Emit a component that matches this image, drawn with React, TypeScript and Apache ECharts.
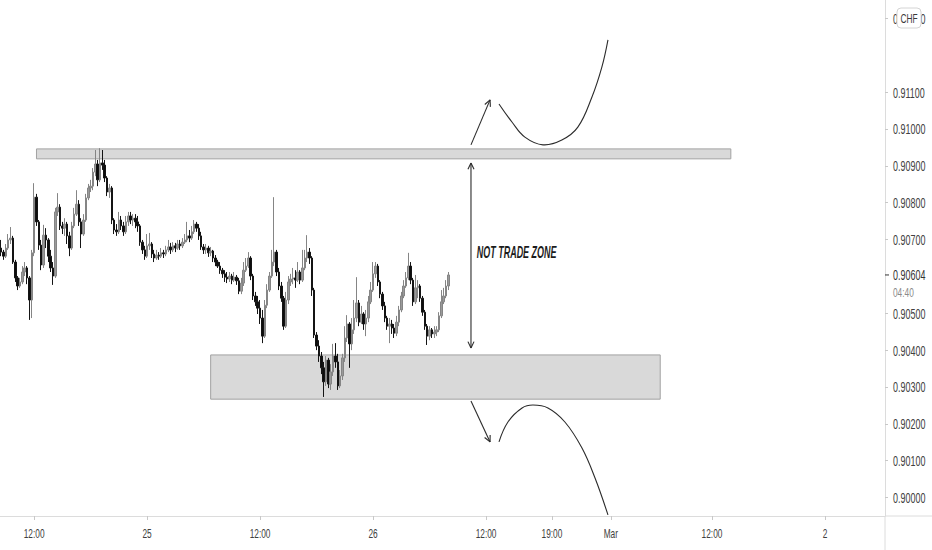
import React, { useEffect, useRef } from "react";
import * as echarts from "echarts";

// 15-minute trading sessions shown on the time scale (weekend gap removed)
const sessions: [string, string][] = [
  ["2021-02-24 08:30", "2021-02-26 21:45"],
  ["2021-02-28 22:00", "2021-03-02 06:15"],
];

const xTickTimes = [
  "2021-02-24 12:00",
  "2021-02-25 00:00",
  "2021-02-25 12:00",
  "2021-02-26 00:00",
  "2021-02-26 12:00",
  "2021-02-26 19:00",
  "2021-03-01 01:15",
  "2021-03-01 12:00",
  "2021-03-02 00:00",
];
const xTickLabels = ["12:00", "25", "12:00", "26", "12:00", "19:00", "Mar", "12:00", "2"];

const yTicks = [0.9, 0.901, 0.902, 0.903, 0.904, 0.905, 0.907, 0.908, 0.909, 0.91, 0.911, 0.913];

// USD/CHF 15m candles: [open, close, low, high]
const ohlc: number[][] = [
  [0.90677, 0.90666, 0.90655, 0.90699],
  [0.90666, 0.90655, 0.90645, 0.90672],
  [0.90655, 0.90677, 0.9065, 0.90688],
  [0.90677, 0.90699, 0.90672, 0.90715],
  [0.90699, 0.90704, 0.90688, 0.90734],
  [0.90704, 0.90639, 0.90634, 0.9071],
  [0.90639, 0.90596, 0.90585, 0.90645],
  [0.90596, 0.90574, 0.90563, 0.90601],
  [0.90574, 0.90585, 0.90569, 0.90596],
  [0.90585, 0.90612, 0.90579, 0.90628],
  [0.90612, 0.90623, 0.90601, 0.90639],
  [0.90623, 0.90596, 0.90579, 0.90628],
  [0.90596, 0.90536, 0.90482, 0.90601],
  [0.90536, 0.90664, 0.90487, 0.90672],
  [0.90664, 0.90815, 0.90655, 0.90853],
  [0.90815, 0.90748, 0.90737, 0.90824],
  [0.90748, 0.90685, 0.90672, 0.90753],
  [0.90685, 0.90631, 0.90617, 0.90699],
  [0.90631, 0.90712, 0.90623, 0.9074],
  [0.90712, 0.90699, 0.90677, 0.90731],
  [0.90699, 0.90655, 0.90639, 0.90704],
  [0.90655, 0.90623, 0.90612, 0.90672],
  [0.90623, 0.90601, 0.90577, 0.90639],
  [0.90601, 0.90775, 0.90596, 0.90786],
  [0.90775, 0.90788, 0.90764, 0.90826],
  [0.90788, 0.90737, 0.90726, 0.90796],
  [0.90737, 0.90731, 0.90715, 0.90748],
  [0.90731, 0.90742, 0.9071, 0.90758],
  [0.90742, 0.9071, 0.90688, 0.90748],
  [0.9071, 0.90677, 0.90655, 0.90721],
  [0.90677, 0.90737, 0.90672, 0.90748],
  [0.90737, 0.90769, 0.90731, 0.90786],
  [0.90769, 0.90796, 0.90764, 0.90834],
  [0.90796, 0.90748, 0.90737, 0.90807],
  [0.90748, 0.90715, 0.90677, 0.90758],
  [0.90715, 0.90753, 0.9071, 0.90769],
  [0.90753, 0.90813, 0.90748, 0.90824],
  [0.90813, 0.9084, 0.90807, 0.90851],
  [0.9084, 0.90845, 0.90829, 0.90862],
  [0.90845, 0.90883, 0.90834, 0.90894],
  [0.90883, 0.90905, 0.90872, 0.90943],
  [0.90905, 0.90862, 0.90845, 0.90916],
  [0.90862, 0.90908, 0.90856, 0.90948],
  [0.90908, 0.90902, 0.90889, 0.90943],
  [0.90902, 0.90867, 0.90856, 0.90916],
  [0.90867, 0.90829, 0.90818, 0.90872],
  [0.90829, 0.9084, 0.90813, 0.90851],
  [0.9084, 0.90753, 0.90742, 0.90845],
  [0.90753, 0.90726, 0.90715, 0.90758],
  [0.90726, 0.90721, 0.9071, 0.90742],
  [0.90721, 0.90753, 0.90715, 0.90775],
  [0.90753, 0.90737, 0.90726, 0.90764],
  [0.90737, 0.90721, 0.9071, 0.90748],
  [0.90721, 0.90748, 0.90715, 0.90764],
  [0.90748, 0.90764, 0.90737, 0.90775],
  [0.90764, 0.90753, 0.90742, 0.90775],
  [0.90753, 0.90758, 0.90737, 0.90769],
  [0.90758, 0.90748, 0.90731, 0.90769],
  [0.90748, 0.90737, 0.90721, 0.90764],
  [0.90737, 0.90693, 0.90683, 0.90742],
  [0.90693, 0.90672, 0.90661, 0.90699],
  [0.90672, 0.90655, 0.90645, 0.90683],
  [0.90655, 0.90683, 0.9065, 0.90715],
  [0.90683, 0.90688, 0.90672, 0.90718],
  [0.90688, 0.90661, 0.9065, 0.90693],
  [0.90661, 0.9065, 0.90639, 0.90672],
  [0.9065, 0.90658, 0.90645, 0.90672],
  [0.90658, 0.90655, 0.90645, 0.90666],
  [0.90655, 0.90664, 0.9065, 0.90677],
  [0.90664, 0.90661, 0.9065, 0.90672],
  [0.90661, 0.90672, 0.90655, 0.90683],
  [0.90672, 0.9068, 0.90666, 0.90699],
  [0.9068, 0.90672, 0.90661, 0.90691],
  [0.90672, 0.90683, 0.90666, 0.90693],
  [0.90683, 0.90677, 0.90666, 0.90691],
  [0.90677, 0.90688, 0.90672, 0.90699],
  [0.90688, 0.90683, 0.90672, 0.90699],
  [0.90683, 0.90693, 0.90677, 0.90704],
  [0.90693, 0.90699, 0.90688, 0.90715],
  [0.90699, 0.9071, 0.90693, 0.90748],
  [0.9071, 0.90704, 0.90693, 0.90726],
  [0.90704, 0.90721, 0.90699, 0.90737],
  [0.90721, 0.90742, 0.90715, 0.90753],
  [0.90742, 0.90731, 0.90721, 0.90748],
  [0.90731, 0.9071, 0.90699, 0.90742],
  [0.9071, 0.9068, 0.90672, 0.90721],
  [0.9068, 0.90672, 0.90661, 0.90688],
  [0.90672, 0.90677, 0.90661, 0.90688],
  [0.90677, 0.90664, 0.90653, 0.90683],
  [0.90664, 0.90669, 0.90655, 0.9068],
  [0.90669, 0.9065, 0.90639, 0.90672],
  [0.9065, 0.90639, 0.90628, 0.90658],
  [0.90639, 0.90628, 0.90623, 0.90645],
  [0.90628, 0.90617, 0.90607, 0.90639],
  [0.90617, 0.90607, 0.90596, 0.90623],
  [0.90607, 0.90598, 0.90585, 0.90617],
  [0.90598, 0.90593, 0.90582, 0.90612],
  [0.90593, 0.90601, 0.90585, 0.90612],
  [0.90601, 0.9059, 0.90579, 0.90607],
  [0.9059, 0.90598, 0.90585, 0.90612],
  [0.90598, 0.90588, 0.90577, 0.90604],
  [0.90588, 0.9056, 0.90552, 0.90596],
  [0.9056, 0.90582, 0.90552, 0.90596],
  [0.90582, 0.90617, 0.90574, 0.90639],
  [0.90617, 0.90628, 0.90612, 0.9065],
  [0.90628, 0.9065, 0.90623, 0.90666],
  [0.9065, 0.90601, 0.9059, 0.90655],
  [0.90601, 0.90547, 0.90536, 0.90607],
  [0.90547, 0.90531, 0.9052, 0.90558],
  [0.90531, 0.90514, 0.90498, 0.90547],
  [0.90514, 0.90487, 0.90471, 0.90536],
  [0.90487, 0.90438, 0.90419, 0.90509],
  [0.90438, 0.90522, 0.90433, 0.90536],
  [0.90522, 0.90563, 0.90514, 0.90579],
  [0.90563, 0.90601, 0.90558, 0.90612],
  [0.90601, 0.90639, 0.90596, 0.90672],
  [0.90639, 0.90666, 0.90628, 0.90815],
  [0.90666, 0.90612, 0.90601, 0.90672],
  [0.90612, 0.90574, 0.90563, 0.90623],
  [0.90574, 0.90541, 0.90531, 0.90585],
  [0.90541, 0.90465, 0.90455, 0.90547],
  [0.90465, 0.90536, 0.9046, 0.90558],
  [0.90536, 0.90585, 0.90525, 0.90601],
  [0.90585, 0.90593, 0.90574, 0.90607],
  [0.90593, 0.90596, 0.90579, 0.90623],
  [0.90596, 0.9059, 0.90569, 0.90617],
  [0.9059, 0.90612, 0.90585, 0.90639],
  [0.90612, 0.9059, 0.90579, 0.90617],
  [0.9059, 0.90623, 0.90585, 0.90672],
  [0.90623, 0.9065, 0.90617, 0.90672],
  [0.9065, 0.90666, 0.90639, 0.90712],
  [0.90666, 0.9065, 0.90634, 0.90677],
  [0.9065, 0.90563, 0.90547, 0.90655],
  [0.90563, 0.90441, 0.90433, 0.90569],
  [0.90441, 0.90411, 0.904, 0.90449],
  [0.90411, 0.90384, 0.90368, 0.90427],
  [0.90384, 0.90352, 0.90335, 0.90395],
  [0.90352, 0.90314, 0.90273, 0.90368],
  [0.90314, 0.90373, 0.90303, 0.90384],
  [0.90373, 0.90308, 0.90297, 0.90379],
  [0.90308, 0.90341, 0.90292, 0.90362],
  [0.90341, 0.90384, 0.9033, 0.90417],
  [0.90384, 0.90368, 0.90352, 0.90419],
  [0.90368, 0.90303, 0.90292, 0.9039],
  [0.90303, 0.9033, 0.90297, 0.90346],
  [0.9033, 0.90379, 0.90319, 0.9039],
  [0.90379, 0.90433, 0.90368, 0.90465],
  [0.90433, 0.90471, 0.90422, 0.90495],
  [0.90471, 0.90417, 0.90352, 0.90476],
  [0.90417, 0.90455, 0.904, 0.90487],
  [0.90455, 0.90487, 0.90444, 0.90536],
  [0.90487, 0.90528, 0.90476, 0.90598],
  [0.90528, 0.90476, 0.90465, 0.90536],
  [0.90476, 0.90498, 0.90471, 0.9052],
  [0.90498, 0.90471, 0.90455, 0.90503],
  [0.90471, 0.90487, 0.90438, 0.90509],
  [0.90487, 0.90531, 0.90476, 0.90547],
  [0.90531, 0.90563, 0.90525, 0.90585],
  [0.90563, 0.90607, 0.90558, 0.90639],
  [0.90607, 0.90628, 0.90596, 0.90639],
  [0.90628, 0.90585, 0.90574, 0.90634],
  [0.90585, 0.90552, 0.90541, 0.9059],
  [0.90552, 0.9052, 0.90509, 0.90558],
  [0.9052, 0.90487, 0.90476, 0.90531],
  [0.90487, 0.90465, 0.90455, 0.90493],
  [0.90465, 0.90471, 0.90419, 0.90487],
  [0.90471, 0.9046, 0.90444, 0.90482],
  [0.9046, 0.90446, 0.90433, 0.90471],
  [0.90446, 0.90476, 0.90438, 0.90493],
  [0.90476, 0.90509, 0.90465, 0.9052],
  [0.90509, 0.90547, 0.90503, 0.90558],
  [0.90547, 0.90574, 0.90541, 0.9059],
  [0.90574, 0.90596, 0.90569, 0.90612],
  [0.90596, 0.90628, 0.9059, 0.90664],
  [0.90628, 0.9059, 0.90579, 0.90639],
  [0.9059, 0.90531, 0.9052, 0.90596],
  [0.90531, 0.90569, 0.90525, 0.90604],
  [0.90569, 0.90574, 0.90541, 0.9059],
  [0.90574, 0.90541, 0.90531, 0.90579],
  [0.90541, 0.90503, 0.90493, 0.90547],
  [0.90503, 0.90465, 0.90455, 0.90509],
  [0.90465, 0.90438, 0.90414, 0.90471],
  [0.90438, 0.90455, 0.90427, 0.90465],
  [0.90455, 0.90444, 0.90433, 0.9046],
  [0.90444, 0.90449, 0.90433, 0.90465],
  [0.90449, 0.90455, 0.90438, 0.90465],
  [0.90455, 0.90493, 0.90449, 0.90503],
  [0.90493, 0.90531, 0.90487, 0.90563],
  [0.90531, 0.90547, 0.90525, 0.90569],
  [0.90547, 0.90574, 0.90541, 0.9059],
  [0.90574, 0.90604, 0.90563, 0.90612],
];

// Drawn zones (time range + price band)
const resistanceZone = { from: "2021-02-24 12:15", to: "2021-03-01 14:00", top: 0.90946, bottom: 0.90919 };
const supportZone = { from: "2021-02-25 06:45", to: "2021-03-01 06:30", top: 0.90387, bottom: 0.90267 };

// Drawn annotations as [slot index, price]
const upArrow = [[199.6, 0.90957], [207.7, 0.91079]];
const upCurve = [
  [211.5, 0.91068], [217.0, 0.91019], [222.5, 0.90978], [230.2, 0.90957], [238.2, 0.9097],
  [245.0, 0.91005], [251.0, 0.91087], [255.2, 0.91168], [257.8, 0.91242],
];
const rangeArrow = [[199.6, 0.90908], [199.6, 0.90406]];
const downArrow = [[199.6, 0.90262], [207.7, 0.90151]];
const downCurve = [
  [211.5, 0.90151], [215.3, 0.90205], [221.3, 0.90243], [225.9, 0.90251], [232.3, 0.90243],
  [239.5, 0.90205], [246.7, 0.90135], [252.3, 0.90053], [257.8, 0.89953],
];
const noteAnchor = [202.1, 0.90664];
const noteText = "NOT TRADE ZONE";
const countdown = "04:40";
const currencyBadge = "CHF";

const FONT = "'Liberation Sans', Arial, sans-serif";
const INK = "#2b2b2b";
const SQUEEZE = 0.64; // the reference's lettering is horizontally condensed

function buildSlots(): string[] {
  const out: string[] = [];
  for (const [s, e] of sessions) {
    let t = Date.parse(s.replace(" ", "T") + ":00Z");
    const end = Date.parse(e.replace(" ", "T") + ":00Z");
    while (t <= end) {
      out.push(new Date(t).toISOString().slice(0, 16).replace("T", " "));
      t += 15 * 60000;
    }
  }
  return out;
}

export default function App() {
  const ref = useRef<HTMLDivElement>(null);

  useEffect(() => {
    if (!ref.current) return;
    const chart = echarts.init(ref.current, undefined, { renderer: "svg" });
    const slots = buildSlots();
    const tickMap = new Map<string, string>();
    xTickTimes.forEach((t, k) => tickMap.set(t, xTickLabels[k]));
    const isTick = (_i: number, v: string) => tickMap.has(v);

    chart.setOption({
      animation: false,
      backgroundColor: "#ffffff",
      grid: { left: 0, right: 47, top: 0, bottom: 34, containLabel: false, outerBoundsMode: "none" },
      xAxis: {
        type: "category",
        data: slots,
        boundaryGap: true,
        axisLine: { show: true, lineStyle: { color: "#dcdcdc", width: 1 } },
        axisTick: { show: true, interval: isTick, alignWithLabel: true, length: 4, lineStyle: { color: "#c8c8c8" } },
        axisLabel: { show: false },
        splitLine: { show: false },
      },
      yAxis: {
        type: "value",
        position: "right",
        min: 0.8995,
        max: 0.9135,
        scale: true,
        axisLine: { show: true, lineStyle: { color: "#dcdcdc", width: 1 } },
        axisTick: { show: true, customValues: yTicks, length: 3, lineStyle: { color: "#c8c8c8" } },
        axisLabel: { show: false },
        splitLine: { show: false },
      },
      series: [
        {
          type: "candlestick",
          data: ohlc,
          barWidth: 2,
          itemStyle: {
            color: "#9a9a9a",
            color0: "#0d0d0d",
            borderColor: "#858585",
            borderColor0: "#141414",
            borderWidth: 1,
          },
          markArea: {
            silent: true,
            itemStyle: { color: "#d9d9d9", borderColor: "#a2a2a2", borderWidth: 1 },
            data: [
              [
                { coord: [resistanceZone.from, resistanceZone.top] },
                { coord: [resistanceZone.to, resistanceZone.bottom] },
              ],
              [
                { coord: [supportZone.from, supportZone.top] },
                { coord: [supportZone.to, supportZone.bottom] },
              ],
            ],
          },
        },
      ],
    });

    const toPx = (p: number[]) => {
      const i0 = Math.floor(p[0]);
      const a = chart.convertToPixel({ gridIndex: 0 }, [i0, p[1]]) as number[];
      const b = chart.convertToPixel({ gridIndex: 0 }, [i0 + 1, p[1]]) as number[];
      return [a[0] + (p[0] - i0) * (b[0] - a[0]), a[1]];
    };

    const lineEl = (a: number[], b: number[]) => ({
      type: "line",
      shape: { x1: a[0], y1: a[1], x2: b[0], y2: b[1] },
      style: { stroke: INK, lineWidth: 1.1 },
      z: 100,
    });
    const arrowHead = (from: number[], tip: number[]) => {
      const ang = Math.atan2(tip[1] - from[1], tip[0] - from[0]);
      const len = 7;
      const spread = Math.PI / 7;
      const h1 = [tip[0] - len * Math.cos(ang - spread), tip[1] - len * Math.sin(ang - spread)];
      const h2 = [tip[0] - len * Math.cos(ang + spread), tip[1] - len * Math.sin(ang + spread)];
      return [lineEl(h1, tip), lineEl(h2, tip)];
    };
    const label = (
      text: string,
      x: number,
      y: number,
      opts: { size?: number; color?: string; align?: string; z?: number; font?: string; squeeze?: number } = {}
    ) => ({
      type: "text",
      x,
      y,
      scaleX: opts.squeeze ?? SQUEEZE,
      z: opts.z ?? 60,
      style: {
        text,
        fill: opts.color ?? "#404040",
        font: opts.font ?? `${opts.size ?? 14}px ${FONT}`,
        textAlign: opts.align ?? "left",
        textVerticalAlign: "middle",
      },
    });

    const ua = upArrow.map(toPx);
    const ra = rangeArrow.map(toPx);
    const da = downArrow.map(toPx);
    const note = toPx(noteAnchor);
    const last = ohlc[ohlc.length - 1];
    const lastPx = toPx([ohlc.length - 1, last[1]]);
    const gridModel = chart.getModel().getComponent("grid", 0) as any;
    const gridRect = gridModel.coordinateSystem.getRect();
    const axisX = gridRect.x + gridRect.width;
    const axisY = gridRect.y + gridRect.height;

    const yLabels = yTicks.map((v) => {
      const p = chart.convertToPixel({ gridIndex: 0 }, [0, v]) as number[];
      return label(v.toFixed(5), axisX + 8, p[1], { size: 14 });
    });
    const xLabels = xTickTimes.map((t, k) => {
      const p = chart.convertToPixel({ gridIndex: 0 }, [t, 0.9]) as number[];
      return label(xTickLabels[k], p[0], axisY + 17, { size: 13, align: "center" });
    });

    chart.setOption({
      graphic: [
        ...yLabels,
        ...xLabels,
        lineEl(ua[0], ua[1]),
        ...arrowHead(ua[0], ua[1]),
        lineEl(ra[0], ra[1]),
        ...arrowHead(ra[1], ra[0]),
        ...arrowHead(ra[0], ra[1]),
        lineEl(da[0], da[1]),
        ...arrowHead(da[0], da[1]),
        {
          type: "polyline",
          shape: { points: upCurve.map(toPx), smooth: 0.4 },
          style: { stroke: INK, lineWidth: 1.1, fill: null },
          z: 100,
        },
        {
          type: "polyline",
          shape: { points: downCurve.map(toPx), smooth: 0.4 },
          style: { stroke: INK, lineWidth: 1.1, fill: null },
          z: 100,
        },
        label(noteText, note[0], note[1], {
          font: `italic bold 16px ${FONT}`,
          color: "#1c1c1c",
          z: 100,
          squeeze: 0.56,
        }),
        // axis line extensions into the scale corner
        {
          type: "line",
          shape: { x1: axisX, y1: axisY, x2: 932, y2: axisY },
          style: { stroke: "#dcdcdc", lineWidth: 1 },
          z: 50,
        },
        {
          type: "line",
          shape: { x1: axisX, y1: axisY, x2: axisX, y2: 550 },
          style: { stroke: "#dcdcdc", lineWidth: 1 },
          z: 50,
        },
        // last price marker
        {
          type: "line",
          shape: { x1: axisX, y1: lastPx[1], x2: axisX + 4, y2: lastPx[1] },
          style: { stroke: "#333333", lineWidth: 1 },
          z: 60,
        },
        label(last[1].toFixed(5), axisX + 8, lastPx[1], { size: 14, color: "#333333" }),
        label(countdown, axisX + 8, lastPx[1] + 17, { size: 13, color: "#8a8a8a" }),
        // currency badge
        {
          type: "rect",
          shape: { x: 897, y: 8, width: 24, height: 20, r: 4 },
          style: { fill: "#ffffff", stroke: "#d4d4d4", lineWidth: 1 },
          z: 70,
        },
        label(currencyBadge, 909, 18, { size: 13, color: "#3a3a3a", align: "center", z: 71 }),
      ],
    });

    return () => {
      chart.dispose();
    };
  }, []);

  return (
    <div
      ref={ref}
      style={{ position: "fixed", left: 0, top: 0, width: 932, height: 550, background: "#ffffff" }}
    />
  );
}
